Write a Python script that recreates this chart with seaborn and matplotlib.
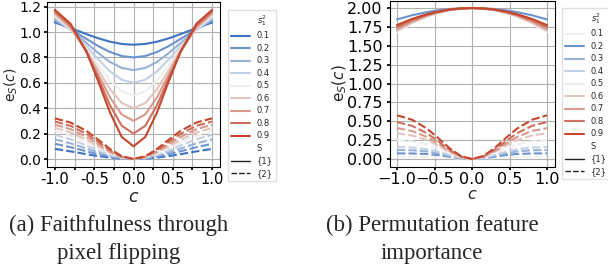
import matplotlib
matplotlib.use("Agg")
import matplotlib.pyplot as plt
from matplotlib.lines import Line2D
import seaborn as sns
import pandas as pd

# ---------------- data ----------------
c_values = [-1.0, -0.8, -0.6, -0.45, -0.3, -0.15, 0.0, 0.15, 0.3, 0.45, 0.6, 0.8, 1.0]
s_levels = ["0.1", "0.2", "0.3", "0.4", "0.5", "0.6", "0.7", "0.8", "0.9"]
set_labels = ["{1}", "{2}"]

# (a) Faithfulness through pixel flipping
a_solid = [
    [1.075, 1.031, 0.984, 0.951, 0.924, 0.906, 0.900, 0.906, 0.924, 0.951, 0.984, 1.031, 1.075],
    [1.088, 1.022, 0.946, 0.890, 0.843, 0.811, 0.800, 0.811, 0.843, 0.890, 0.946, 1.022, 1.088],
    [1.100, 1.018, 0.915, 0.835, 0.765, 0.717, 0.700, 0.717, 0.765, 0.835, 0.915, 1.018, 1.100],
    [1.113, 1.018, 0.890, 0.785, 0.690, 0.624, 0.600, 0.624, 0.690, 0.785, 0.890, 1.018, 1.113],
    [1.125, 1.022, 0.871, 0.741, 0.619, 0.532, 0.500, 0.532, 0.619, 0.741, 0.871, 1.022, 1.125],
    [1.138, 1.029, 0.858, 0.702, 0.551, 0.441, 0.400, 0.441, 0.551, 0.702, 0.858, 1.029, 1.138],
    [1.150, 1.039, 0.850, 0.668, 0.487, 0.351, 0.300, 0.351, 0.487, 0.668, 0.850, 1.039, 1.150],
    [1.163, 1.051, 0.846, 0.639, 0.425, 0.262, 0.200, 0.262, 0.425, 0.639, 0.846, 1.051, 1.163],
    [1.175, 1.065, 0.847, 0.615, 0.368, 0.174, 0.100, 0.174, 0.368, 0.615, 0.847, 1.065, 1.175],
]
a_dashed = [
    [0.080, 0.060, 0.038, 0.023, 0.011, 0.003, 0.0, 0.003, 0.011, 0.023, 0.038, 0.060, 0.080],
    [0.120, 0.093, 0.061, 0.038, 0.018, 0.005, 0.0, 0.005, 0.018, 0.038, 0.061, 0.093, 0.120],
    [0.155, 0.123, 0.083, 0.052, 0.025, 0.007, 0.0, 0.007, 0.025, 0.052, 0.083, 0.123, 0.155],
    [0.190, 0.155, 0.107, 0.069, 0.033, 0.009, 0.0, 0.009, 0.033, 0.069, 0.107, 0.155, 0.190],
    [0.220, 0.184, 0.131, 0.085, 0.042, 0.011, 0.0, 0.011, 0.042, 0.085, 0.131, 0.184, 0.220],
    [0.245, 0.209, 0.152, 0.100, 0.050, 0.013, 0.0, 0.013, 0.050, 0.100, 0.152, 0.209, 0.245],
    [0.270, 0.235, 0.175, 0.117, 0.059, 0.016, 0.0, 0.016, 0.059, 0.117, 0.175, 0.235, 0.270],
    [0.295, 0.261, 0.198, 0.135, 0.069, 0.019, 0.0, 0.019, 0.069, 0.135, 0.198, 0.261, 0.295],
    [0.320, 0.287, 0.222, 0.153, 0.080, 0.022, 0.0, 0.022, 0.080, 0.153, 0.222, 0.287, 0.320],
]

# (b) Permutation feature importance
b_solid = [
    [1.680, 1.795, 1.885, 1.935, 1.971, 1.993, 2.0, 1.993, 1.971, 1.935, 1.885, 1.795, 1.680],
    [1.850, 1.904, 1.946, 1.970, 1.987, 1.997, 2.0, 1.997, 1.987, 1.970, 1.946, 1.904, 1.850],
    [1.740, 1.834, 1.906, 1.947, 1.977, 1.994, 2.0, 1.994, 1.977, 1.947, 1.906, 1.834, 1.740],
    [1.710, 1.814, 1.896, 1.941, 1.974, 1.993, 2.0, 1.993, 1.974, 1.941, 1.896, 1.814, 1.710],
    [1.690, 1.802, 1.888, 1.937, 1.972, 1.993, 2.0, 1.993, 1.972, 1.937, 1.888, 1.802, 1.690],
    [1.700, 1.808, 1.892, 1.939, 1.973, 1.993, 2.0, 1.993, 1.973, 1.939, 1.892, 1.808, 1.700],
    [1.720, 1.821, 1.899, 1.943, 1.975, 1.994, 2.0, 1.994, 1.975, 1.943, 1.899, 1.821, 1.720],
    [1.750, 1.840, 1.910, 1.949, 1.978, 1.994, 2.0, 1.994, 1.978, 1.949, 1.910, 1.840, 1.750],
    [1.775, 1.856, 1.919, 1.954, 1.980, 1.995, 2.0, 1.995, 1.980, 1.954, 1.919, 1.856, 1.775],
]
b_dashed = [
    [0.030, 0.029, 0.027, 0.021, 0.013, 0.004, 0.0, 0.004, 0.013, 0.021, 0.027, 0.029, 0.030],
    [0.075, 0.074, 0.067, 0.053, 0.031, 0.009, 0.0, 0.009, 0.031, 0.053, 0.067, 0.074, 0.075],
    [0.120, 0.116, 0.101, 0.077, 0.044, 0.013, 0.0, 0.013, 0.044, 0.077, 0.101, 0.116, 0.120],
    [0.160, 0.153, 0.130, 0.097, 0.054, 0.016, 0.0, 0.016, 0.054, 0.097, 0.130, 0.153, 0.160],
    [0.250, 0.235, 0.194, 0.141, 0.077, 0.022, 0.0, 0.022, 0.077, 0.141, 0.194, 0.235, 0.250],
    [0.340, 0.313, 0.251, 0.178, 0.095, 0.027, 0.0, 0.027, 0.095, 0.178, 0.251, 0.313, 0.340],
    [0.410, 0.372, 0.292, 0.204, 0.107, 0.030, 0.0, 0.030, 0.107, 0.204, 0.292, 0.372, 0.410],
    [0.490, 0.440, 0.341, 0.235, 0.122, 0.034, 0.0, 0.034, 0.122, 0.235, 0.341, 0.440, 0.490],
    [0.580, 0.521, 0.403, 0.278, 0.144, 0.040, 0.0, 0.040, 0.144, 0.278, 0.403, 0.521, 0.580],
]

a_xticks = [-1.0, -0.75, -0.5, -0.25, 0.0, 0.25, 0.5, 0.75, 1.0]
a_xticklabels = ["-1.0", "", "-0.5", "", "0.0", "", "0.5", "", "1.0"]
a_yticks = [0.0, 0.2, 0.4, 0.6, 0.8, 1.0, 1.2]
b_xticks = [-1.0, -0.5, 0.0, 0.5, 1.0]
b_yticks = [0.0, 0.25, 0.5, 0.75, 1.0, 1.25, 1.5, 1.75, 2.0]

caption_a = "(a) Faithfulness through\npixel flipping"
caption_b = "(b) Permutation feature\nimportance"

HUE = r"$s_1^2$"
STYLE = "S"
DASH = (4, 1.5)


def long_frame(solid, dashed):
    rows = []
    for style_lab, block in zip(set_labels, [solid, dashed]):
        for s, vals in zip(s_levels, block):
            for c, v in zip(c_values, vals):
                rows.append({"c": c, "e": v, HUE: s, STYLE: style_lab})
    return pd.DataFrame(rows)


df_a = long_frame(a_solid, a_dashed)
df_b = long_frame(b_solid, b_dashed)

# ---------------- style ----------------
sns.set_theme(style="whitegrid", rc={
    "axes.edgecolor": "black",
    "axes.linewidth": 0.8,
    "grid.color": "#b0b0b0",
    "grid.linewidth": 0.8,
    "xtick.bottom": True,
    "ytick.left": True,
    "xtick.major.size": 2.0,
    "ytick.major.size": 2.0,
    "xtick.major.pad": 1.8,
    "ytick.major.pad": 3.0,
    "xtick.color": "black",
    "ytick.color": "black",
    "lines.linewidth": 1.5,
})
plt.rcParams["font.family"] = ["DejaVu Sans"]

pal_a = sns.blend_palette(["#3f74c4", "#efefef", "#c4472e"], 9)
pal_b = ["#f1f1f1"] + list(pal_a[1:])

fig = plt.figure(figsize=(6.08, 2.74), dpi=100)
ax_a = fig.add_axes([47 / 608, 1 - 166.5 / 274, 173 / 608, 164.2 / 274])
ax_b = fig.add_axes([389.5 / 608, 1 - 166.6 / 274, 165 / 608, 166.1 / 274])

for ax, df, pal in [(ax_a, df_a, pal_a), (ax_b, df_b, pal_b)]:
    sns.lineplot(data=df, x="c", y="e", hue=HUE, style=STYLE,
                 hue_order=s_levels, style_order=set_labels,
                 palette=pal, dashes=["", DASH], legend=False, ax=ax, linewidth=1.5)

ax_a.set_xticks(a_xticks)
ax_a.set_xticklabels(a_xticklabels)
ax_a.set_yticks(a_yticks)
ax_a.set_xlim(-1.1, 1.1)
ax_a.set_ylim(-0.059, 1.234)
ax_a.tick_params(labelsize=10.5)
ax_a.tick_params(axis="y", labelsize=10, pad=2.0)
ax_a.set_xlabel(r"$c$", fontsize=12.5, labelpad=1)
ax_a.set_ylabel(r"e$_S(c)$", fontsize=10)
ax_a.yaxis.set_label_coords(-0.158, 0.5)

ax_b.set_xticks(b_xticks)
ax_b.set_yticks(b_yticks)
ax_b.set_xlim(-1.1, 1.1)
ax_b.set_ylim(-0.1, 2.1)
ax_b.tick_params(labelsize=11.5)
ax_b.set_xlabel(r"$c$", fontsize=11.5, labelpad=0)
ax_b.set_ylabel(r"e$_S(c)$", fontsize=11)
ax_b.yaxis.set_label_coords(-0.245, 0.5)


def make_legend(ax, pal, anchor):
    handles = [Line2D([], [], alpha=0)]
    labels = [HUE]
    for s, col in zip(s_levels, pal):
        handles.append(Line2D([], [], color=col, lw=1.5))
        labels.append(s)
    handles.append(Line2D([], [], alpha=0))
    labels.append(STYLE)
    handles.append(Line2D([], [], color="#222222", lw=1.0))
    labels.append(set_labels[0])
    handles.append(Line2D([], [], color="#222222", lw=1.0, dashes=DASH))
    labels.append(set_labels[1])
    ax.legend(handles, labels, loc="upper left", bbox_to_anchor=anchor,
              bbox_transform=fig.transFigure, fontsize=6, frameon=True,
              handlelength=2.3, labelspacing=0.42, borderpad=0.35,
              handletextpad=0.8, framealpha=0.8, edgecolor="0.85", fancybox=False)


make_legend(ax_a, pal_a, (224 / 608, 1 - 6 / 274))
make_legend(ax_b, pal_b, (558 / 608, 1 - 4 / 274))

cap_font = ["Liberation Serif", "DejaVu Serif"]
fig.text(119 / 608, 1 - 239.5 / 274, caption_a, ha="center", va="center",
         fontsize=16.4, family=cap_font, linespacing=1.42)
fig.text(432 / 608, 1 - 239.5 / 274, caption_b, ha="center", va="center",
         fontsize=16.4, family=cap_font, linespacing=1.42)

fig.savefig("out.png", dpi=100)
